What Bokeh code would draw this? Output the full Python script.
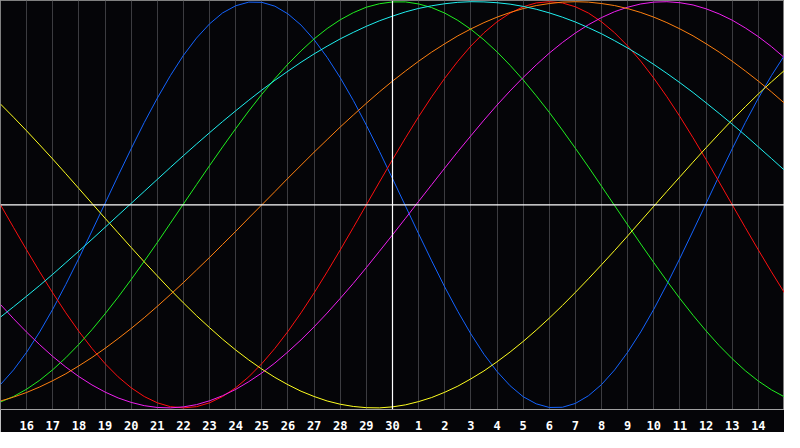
from bokeh.plotting import figure
from bokeh.models import Range1d, Span, FixedTicker
from bokeh.embed import file_html
from bokeh.resources import INLINE

# sample positions in days (0 = day 15, 15 = day 30 "today", 30 = day 15 next month), every half day
days = [k / 2 for k in range(61)]
tick_days = list(range(1, 30))
tick_labels = ["16", "17", "18", "19", "20", "21", "22", "23", "24", "25", "26", "27", "28", "29", "30",
               "1", "2", "3", "4", "5", "6", "7", "8", "9", "10", "11", "12", "13", "14"]

physical_23 = [-0.885, -0.813, -0.726, -0.626, -0.514, -0.392, -0.263, -0.129, 0.007, 0.143,
               0.276, 0.405, 0.525, 0.636, 0.736, 0.821, 0.891, 0.945, 0.980, 0.998,
               0.997, 0.978, 0.940, 0.885, 0.813, 0.726, 0.626, 0.514, 0.392, 0.263,
               0.129, -0.007, -0.143, -0.276, -0.405, -0.525, -0.636, -0.736, -0.821, -0.891,
               -0.945, -0.980, -0.998, -0.997, -0.978, -0.940, -0.885, -0.813, -0.726, -0.626,
               -0.514, -0.392, -0.263, -0.129, 0.007, 0.143, 0.276, 0.405, 0.525, 0.636,
               0.736]
emotional_28 = [0.0, -0.112, -0.2225, -0.330, -0.434, -0.532, -0.6235, -0.707, -0.782, -0.847,
                -0.901, -0.944, -0.975, -0.994, -1.0, -0.994, -0.975, -0.944, -0.901, -0.847,
                -0.782, -0.707, -0.6235, -0.532, -0.434, -0.330, -0.2225, -0.112, 0.0, 0.112,
                0.2225, 0.330, 0.434, 0.532, 0.6235, 0.707, 0.782, 0.847, 0.901, 0.944,
                0.975, 0.994, 1.0, 0.994, 0.975, 0.944, 0.901, 0.847, 0.782, 0.707,
                0.6235, 0.532, 0.434, 0.330, 0.2225, 0.112, 0.0, -0.112, -0.2225, -0.330,
                -0.434]
intellectual_33 = [-0.971, -0.944, -0.908, -0.864, -0.812, -0.753, -0.687, -0.615, -0.537, -0.455,
                   -0.368, -0.278, -0.186, -0.091, 0.004, 0.099, 0.193, 0.285, 0.375, 0.462,
                   0.544, 0.621, 0.693, 0.758, 0.817, 0.868, 0.911, 0.946, 0.973, 0.990,
                   0.999, 0.999, 0.989, 0.971, 0.944, 0.908, 0.864, 0.812, 0.753, 0.687,
                   0.615, 0.537, 0.455, 0.368, 0.278, 0.186, 0.091, -0.004, -0.099, -0.193,
                   -0.285, -0.375, -0.462, -0.544, -0.621, -0.693, -0.758, -0.817, -0.868, -0.911,
                   -0.946]
intuitive_38 = [-0.491, -0.561, -0.627, -0.689, -0.747, -0.799, -0.846, -0.887, -0.922, -0.951,
                -0.973, -0.989, -0.998, -1.000, -0.995, -0.984, -0.965, -0.940, -0.909, -0.871,
                -0.828, -0.779, -0.724, -0.665, -0.601, -0.533, -0.461, -0.387, -0.309, -0.229,
                -0.148, -0.066, 0.017, 0.099, 0.181, 0.262, 0.340, 0.417, 0.491, 0.561,
                0.627, 0.689, 0.747, 0.799, 0.846, 0.887, 0.922, 0.951, 0.973, 0.989,
                0.998, 1.000, 0.995, 0.984, 0.965, 0.940, 0.909, 0.871, 0.828, 0.779,
                0.724]
aesthetic_43 = [0.496, 0.431, 0.364, 0.295, 0.225, 0.153, 0.080, 0.007, -0.066, -0.138,
                -0.210, -0.281, -0.350, -0.418, -0.483, -0.546, -0.605, -0.662, -0.715, -0.764,
                -0.809, -0.850, -0.886, -0.918, -0.944, -0.966, -0.982, -0.993, -0.999, -1.000,
                -0.995, -0.985, -0.969, -0.949, -0.923, -0.893, -0.857, -0.818, -0.773, -0.725,
                -0.673, -0.617, -0.558, -0.496, -0.431, -0.364, -0.295, -0.225, -0.153, -0.080,
                -0.007, 0.066, 0.138, 0.210, 0.281, 0.350, 0.418, 0.483, 0.546, 0.605,
                0.662]
awareness_48 = [-0.966, -0.947, -0.924, -0.897, -0.866, -0.832, -0.793, -0.752, -0.707, -0.659,
                -0.609, -0.556, -0.500, -0.442, -0.383, -0.321, -0.259, -0.195, -0.131, -0.065,
                0.0, 0.065, 0.131, 0.195, 0.259, 0.321, 0.383, 0.442, 0.500, 0.556,
                0.609, 0.659, 0.707, 0.752, 0.793, 0.832, 0.866, 0.897, 0.924, 0.947,
                0.966, 0.981, 0.991, 0.998, 1.0, 0.998, 0.991, 0.981, 0.966, 0.947,
                0.924, 0.897, 0.866, 0.832, 0.793, 0.752, 0.707, 0.659, 0.609, 0.556,
                0.500]
spiritual_53 = [-0.553, -0.502, -0.450, -0.397, -0.342, -0.285, -0.228, -0.170, -0.111, -0.052,
                0.007, 0.066, 0.125, 0.184, 0.242, 0.299, 0.355, 0.410, 0.463, 0.515,
                0.565, 0.613, 0.658, 0.702, 0.743, 0.781, 0.817, 0.849, 0.879, 0.906,
                0.929, 0.950, 0.967, 0.980, 0.990, 0.997, 1.000, 0.999, 0.995, 0.988,
                0.977, 0.963, 0.945, 0.924, 0.900, 0.872, 0.842, 0.808, 0.772, 0.733,
                0.691, 0.647, 0.601, 0.553, 0.502, 0.450, 0.397, 0.342, 0.285, 0.228,
                0.170]

series = [
    (physical_23, "#1464ff"),
    (emotional_28, "#ff1010"),
    (intellectual_33, "#20f020"),
    (intuitive_38, "#f020f0"),
    (aesthetic_43, "#ffff20"),
    (awareness_48, "#ff8010"),
    (spiritual_53, "#20f0f0"),
]

BG = "#050508"
p = figure(width=784, height=432, output_backend="svg", toolbar_location=None,
           x_range=Range1d(0, 30), y_range=Range1d(-1.008, 1.006),
           min_border_left=0, min_border_right=0, min_border_top=0, min_border_bottom=20)
p.background_fill_color = BG
p.border_fill_color = BG
p.outline_line_color = "#808080"
p.yaxis.visible = False
p.ygrid.visible = False

p.xaxis.ticker = FixedTicker(ticks=tick_days)
p.xaxis.major_label_overrides = {t: lab for t, lab in zip(tick_days, tick_labels)}
p.xaxis.major_tick_line_color = None
p.xaxis.minor_tick_line_color = None
p.xaxis.axis_line_color = "#a0a0a0"
p.xaxis.major_label_text_color = "white"
p.xaxis.major_label_text_font = "DejaVu Sans Mono"
p.xaxis.major_label_text_font_style = "bold"
p.xaxis.major_label_text_font_size = "12px"
p.xaxis.major_label_standoff = 5

p.xgrid.ticker = FixedTicker(ticks=tick_days)
p.xgrid.grid_line_color = "#3c3c40"
p.xgrid.grid_line_width = 1

for vals, col in series:
    p.line(days, vals, line_color=col, line_width=1)

p.add_layout(Span(location=0, dimension="width", line_color="white", line_width=1.2))
p.add_layout(Span(location=15, dimension="height", line_color="white", line_width=1.2))

open("out.html", "w").write(file_html(p, INLINE))
